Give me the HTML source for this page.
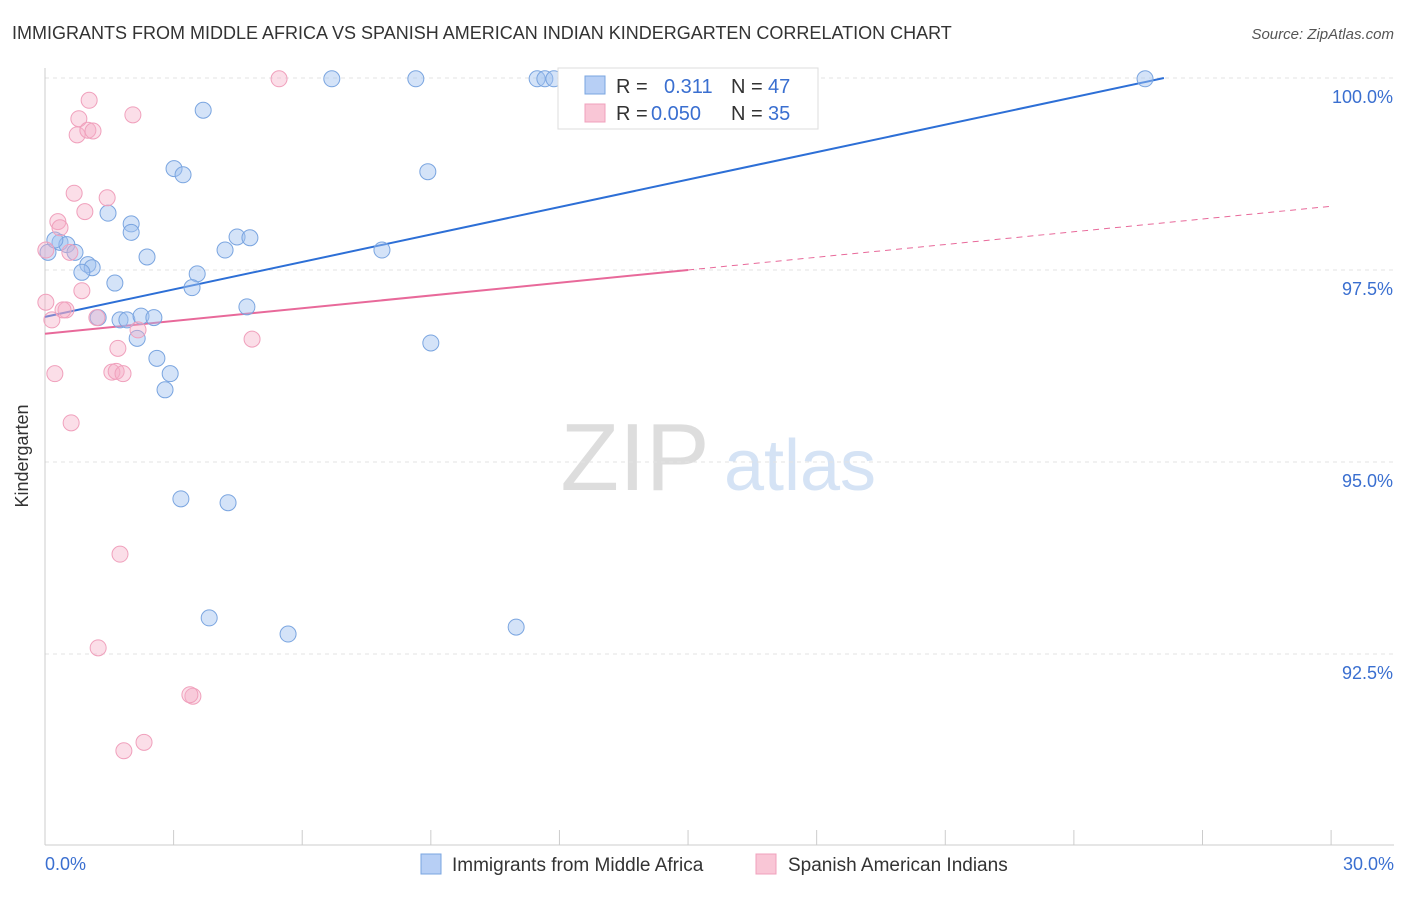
<!DOCTYPE html>
<html><head><meta charset="utf-8"><style>
body{margin:0;background:#fff;font-family:"Liberation Sans",sans-serif}
svg text{font-family:"Liberation Sans",sans-serif}
</style></head><body>
<svg id="chart" width="1406" height="892" xmlns="http://www.w3.org/2000/svg">
<text x="12" y="39" font-size="18" fill="#333">IMMIGRANTS FROM MIDDLE AFRICA VS SPANISH AMERICAN INDIAN KINDERGARTEN CORRELATION CHART</text>
<text x="1394" y="39" font-size="15" fill="#555" text-anchor="end" font-style="italic">Source: ZipAtlas.com</text>
<text x="28" y="456" font-size="18" fill="#333" text-anchor="middle" transform="rotate(-90 28 456)">Kindergarten</text>
<g>
<text x="635" y="490" font-size="96" fill="#ddd" font-family="Liberation Serif" text-anchor="middle">ZIP</text>
<text x="800" y="490" font-size="72" fill="#d5e3f5" text-anchor="middle">atlas</text>
</g>
<g id="grid"></g><g id="axes"></g><g id="lines"></g><g id="points"></g>
<g>
<rect x="558" y="68" width="260" height="61" fill="#fff" stroke="#ddd"/>
<rect x="585" y="76" width="20" height="18" fill="#b7cff5" stroke="#7aa5e0"/>
<text x="616" y="93" font-size="20" fill="#333">R = </text><text x="664" y="93" font-size="20" fill="#3a6fd0">0.311</text>
<text x="731" y="93" font-size="20" fill="#333">N = </text><text x="768" y="93" font-size="20" fill="#3a6fd0">47</text>
<rect x="585" y="104" width="20" height="18" fill="#f9c6d6" stroke="#f0a0bc"/>
<text x="616" y="120" font-size="20" fill="#333">R = </text><text x="651" y="120" font-size="20" fill="#3a6fd0">0.050</text>
<text x="731" y="120" font-size="20" fill="#333">N = </text><text x="768" y="120" font-size="20" fill="#3a6fd0">35</text>
</g>
<g>
<rect x="421" y="854" width="20" height="20" fill="#b7cff5" stroke="#7aa5e0"/>
<text x="452" y="871" font-size="19" fill="#333">Immigrants from Middle Africa</text>
<rect x="756" y="854" width="20" height="20" fill="#f9c6d6" stroke="#f0a0bc"/>
<text x="788" y="871" font-size="19" fill="#333">Spanish American Indians</text>
</g>
</svg>
<script>
const blueX=[6.69,8.65,11.48,11.66,11.87,14.51,25.66,3.69,8.93,3.01,3.22,1.47,2.01,2.01,4.48,4.78,4.20,7.86,2.38,0.07,0.35,0.51,0.70,1.00,1.10,0.86,3.55,1.63,3.43,4.71,1.24,1.75,1.91,2.24,2.54,2.15,9.00,2.61,2.92,2.80,3.17,4.27,3.83,5.67,10.99,0.23];
const blueY=[99.99,99.99,99.99,99.99,99.99,99.99,99.99,99.58,98.78,98.82,98.74,98.24,98.10,97.99,97.93,97.92,97.76,97.76,97.67,97.73,97.86,97.83,97.73,97.57,97.53,97.47,97.45,97.33,97.27,97.02,96.88,96.85,96.85,96.90,96.88,96.61,96.55,96.35,96.15,95.94,94.52,94.47,92.97,92.76,92.85,97.89];
const pinkX=[5.46,12.43,1.03,0.79,0.75,1.00,1.12,2.05,0.68,1.45,0.93,0.30,0.35,0.02,0.58,0.86,0.02,0.49,0.42,0.16,1.21,2.17,4.83,1.70,0.23,1.56,1.66,1.82,0.61,1.75,1.24,3.45,3.38,2.31,1.84];
const pinkY=[99.99,99.99,99.71,99.47,99.26,99.32,99.31,99.52,98.50,98.44,98.26,98.13,98.05,97.76,97.73,97.23,97.08,96.98,96.98,96.85,96.88,96.72,96.60,96.48,96.15,96.17,96.18,96.15,95.51,93.80,92.58,91.95,91.97,91.35,91.24];
const yTicks=[100,97.5,95,92.5];
const yTickLabels=["100.0%","97.5%","95.0%","92.5%"];
const blueTrend=[[0,96.89],[26.1,100]];
const pinkTrend=[[0,96.67],[15,97.5],[30,98.33]];
const NS="http://www.w3.org/2000/svg";
const sx=v=>45+v*42.87, sy=v=>78+(100-v)*76.8;
function mk(t,a,p){const e=document.createElementNS(NS,t);for(const k in a)e.setAttribute(k,a[k]);p.appendChild(e);return e;}
const grid=document.getElementById('grid'),axes=document.getElementById('axes'),lines=document.getElementById('lines'),pts=document.getElementById('points');
yTicks.forEach((t,i)=>{
const l=mk('line',{x1:45,x2:1394,y1:sy(t),y2:sy(t),stroke:'#e3e3e3','stroke-dasharray':'4,4'},grid);


const tx=mk('text',{x:1393,y:sy(t)+25,'font-size':18,fill:'#3a6fd0','text-anchor':'end'},axes);
tx.textContent=yTickLabels[i];


});
const ax=mk('line',{x1:45,x2:45,y1:68,y2:845,stroke:'#ccc'},axes);


const bx=mk('line',{x1:45,x2:1394,y1:845,y2:845,stroke:'#ccc'},axes);


for(let i=0;i<=10;i++){const t=mk('line',{x1:sx(i*3),x2:sx(i*3),y1:830,y2:845,stroke:'#ccc'},axes);

}
[[0,"0.0%",'start',45],[30,"30.0%",'end',1394]].forEach(d=>{const t=mk('text',{x:d[3],y:870,'font-size':18,fill:'#3a6fd0','text-anchor':d[2]},axes);t.textContent=d[1];

});
const bl=mk('line',{x1:sx(blueTrend[0][0]),y1:sy(blueTrend[0][1]),x2:sx(blueTrend[1][0]),y2:sy(blueTrend[1][1]),stroke:'#2d6fd6','stroke-width':2},lines);


const pl=mk('line',{x1:sx(pinkTrend[0][0]),y1:sy(pinkTrend[0][1]),x2:sx(pinkTrend[1][0]),y2:sy(pinkTrend[1][1]),stroke:'#e8699a','stroke-width':2},lines);


const pd=mk('line',{x1:sx(pinkTrend[1][0]),y1:sy(pinkTrend[1][1]),x2:sx(pinkTrend[2][0]),y2:sy(pinkTrend[2][1]),stroke:'#e8699a','stroke-width':1,'stroke-dasharray':'6,5'},lines);


blueX.forEach((x,i)=>{const c=mk('circle',{cx:sx(x),cy:sy(blueY[i]),r:8,fill:'rgba(160,192,240,0.45)',stroke:'#7aa5e0','stroke-width':1},pts);

});
pinkX.forEach((x,i)=>{const c=mk('circle',{cx:sx(x),cy:sy(pinkY[i]),r:8,fill:'rgba(246,172,198,0.4)',stroke:'#f0a0bc','stroke-width':1},pts);

});
</script>
</body></html>
